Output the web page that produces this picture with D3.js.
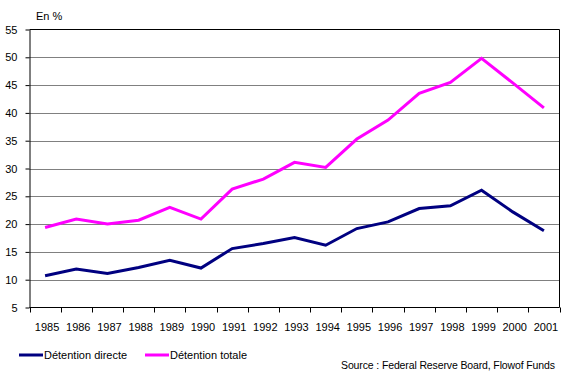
<!DOCTYPE html>
<html>
<head>
<meta charset="utf-8">
<script src="https://cdn.jsdelivr.net/npm/d3@7"></script>
<style>
  body { margin: 0; background: #fff; }
  text { font-family: "Liberation Sans", Arial, sans-serif; }
</style>
</head>
<body>
<script>
let w = 565;
let h = 384;

// data
var years = ["1985", "1986", "1987", "1988", "1989", "1990", "1991", "1992", "1993",
    "1994", "1995", "1996", "1997", "1998", "1999", "2000", "2001"];
var directe = [10.7, 11.9, 11.1, 12.2, 13.5, 12.1, 15.6, 16.5, 17.6, 16.2, 19.2, 20.4, 22.8, 23.3, 26.1, 22.2, 18.8];
var totale = [19.4, 20.9, 20.0, 20.7, 23.0, 20.9, 26.3, 28.1, 31.1, 30.2, 35.3, 38.7, 43.5, 45.5, 49.8, 45.4, 40.9];
var yTicks = [5, 10, 15, 20, 25, 30, 35, 40, 45, 50, 55];

// "top" is taken by window.top, so plot edges get their own names
var pLeft = 29.5, pRight = 559.5, pTop = 29.5, pBottom = 307.5;

var svg = d3.select("body").append("svg")
    .attr("width", w)
    .attr("height", h);

var x = d3.scaleBand().domain(years).range([pLeft, pRight]);
var y = d3.scaleLinear().domain([5, 55]).range([pBottom, pTop]);

// gridlines
svg.append("g").selectAll("line").data(yTicks.slice(1, -1)).enter().append("line")
    .attr("x1", pLeft).attr("x2", pRight)
    .attr("y1", d => Math.round(y(d)) + 0.5)
    .attr("y2", d => Math.round(y(d)) + 0.5)
    .attr("stroke", "#808080");

// frame top + right
svg.append("path")
    .attr("d", `M${pLeft},${pTop}H${pRight}V${pBottom}`)
    .attr("fill", "none").attr("stroke", "#000");

// y axis
var yAxis = svg.append("g")
    .attr("transform", `translate(${pLeft},0)`)
    .call(d3.axisLeft(y).tickValues(yTicks).tickSize(4).tickPadding(8).tickSizeOuter(0));
yAxis.select(".domain").attr("stroke", "#000");
yAxis.selectAll("text").attr("font-size", 11).attr("fill", "#000")
    .attr("font-family", "Liberation Sans, Arial, sans-serif");

// x axis, ticks at band edges
var xAxis = svg.append("g")
    .attr("transform", `translate(0,${pBottom})`);
xAxis.append("line").attr("x1", pLeft).attr("x2", pRight).attr("stroke", "#000");
xAxis.selectAll("line.tk").data(years.concat(["end"])).enter().append("line")
    .attr("class", "tk")
    .attr("x1", (d, i) => Math.round(pLeft + i * x.step()) + 0.5)
    .attr("x2", (d, i) => Math.round(pLeft + i * x.step()) + 0.5)
    .attr("y1", 0).attr("y2", 5)
    .attr("stroke", "#000");
xAxis.selectAll("text").data(years).enter().append("text")
    .attr("x", d => x(d) + x.bandwidth() / 2 + 2)
    .attr("y", 23)
    .attr("text-anchor", "middle")
    .attr("font-size", 11)
    .text(d => d);

// lines
var line = d3.line()
    .x((d, i) => x(years[i]) + x.bandwidth() / 2)
    .y(d => y(d));

svg.append("path").datum(directe)
    .attr("d", line)
    .attr("fill", "none")
    .attr("stroke", "#000080")
    .attr("stroke-width", 3);

svg.append("path").datum(totale)
    .attr("d", line)
    .attr("fill", "none")
    .attr("stroke", "#FF00FF")
    .attr("stroke-width", 3);

// unit label
svg.append("text")
    .attr("x", 36).attr("y", 20)
    .attr("font-size", 11)
    .text("En %");

// legend
var legend = [
    { name: "Détention directe", color: "#000080", x: 19 },
    { name: "Détention totale", color: "#FF00FF", x: 145 }
];
var lg = svg.selectAll("g.legend").data(legend).enter().append("g")
    .attr("transform", d => `translate(${d.x},355)`);
lg.append("line")
    .attr("x1", 0).attr("x2", 24)
    .attr("stroke", d => d.color)
    .attr("stroke-width", 3);
lg.append("text")
    .attr("x", 25).attr("y", 4)
    .attr("font-size", 11)
    .text(d => d.name);

// source
svg.append("text")
    .attr("x", 341).attr("y", 369)
    .attr("font-size", 10.5)
    .attr("textLength", 214)
    .attr("lengthAdjust", "spacing")
    .text("Source : Federal Reserve Board, Flowof Funds");
</script>
</body>
</html>
